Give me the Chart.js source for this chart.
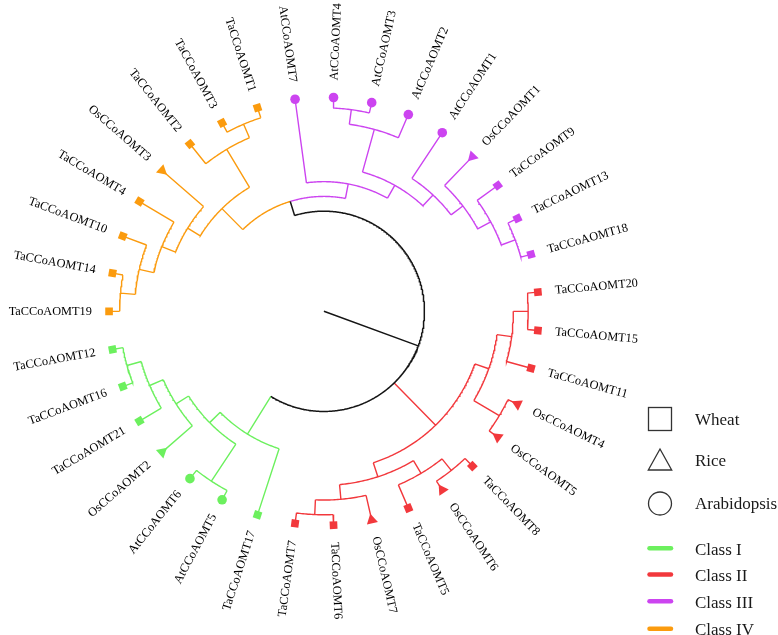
<!DOCTYPE html>
<html>
<head>
<meta charset="utf-8">
<script src="https://cdn.jsdelivr.net/npm/chart.js@4.4.0/dist/chart.umd.min.js"></script>
<style>
  html, body { margin: 0; padding: 0; background: #fff; }
  #wrap { width: 778px; height: 635px; }
</style>
</head>
<body>
<div id="wrap"><canvas id="tree" width="778" height="635"></canvas></div>
<script>
"use strict";

// leaves, clockwise starting at 9 o'clock
const leafNames = [
  'TaCCoAOMT19', 'TaCCoAOMT14', 'TaCCoAOMT10', 'TaCCoAOMT4', 'OsCCoAOMT3', 'TaCCoAOMT2', 'TaCCoAOMT3', 'TaCCoAOMT1',
  'AtCCoAOMT7', 'AtCCoAOMT4', 'AtCCoAOMT3', 'AtCCoAOMT2', 'AtCCoAOMT1', 'OsCCoAOMT1', 'TaCCoAOMT9', 'TaCCoAOMT13', 'TaCCoAOMT18',
  'TaCCoAOMT20', 'TaCCoAOMT15', 'TaCCoAOMT11', 'OsCCoAOMT4', 'OsCCoAOMT5', 'TaCCoAOMT8', 'OsCCoAOMT6', 'TaCCoAOMT5', 'OsCCoAOMT7', 'TaCCoAOMT6', 'TaCCoAOMT7',
  'TaCCoAOMT17', 'AtCCoAOMT5', 'AtCCoAOMT6', 'OsCCoAOMT2', 'TaCCoAOMT21', 'TaCCoAOMT16', 'TaCCoAOMT12'
];
const leafClass = [
  'IV', 'IV', 'IV', 'IV', 'IV', 'IV', 'IV', 'IV',
  'III', 'III', 'III', 'III', 'III', 'III', 'III', 'III', 'III',
  'II', 'II', 'II', 'II', 'II', 'II', 'II', 'II', 'II', 'II', 'II',
  'I', 'I', 'I', 'I', 'I', 'I', 'I'
];
const speciesByPrefix = { Ta: 'Wheat', Os: 'Rice', At: 'Arabidopsis' };
const classNames = ['I', 'II', 'III', 'IV'];
const speciesNames = ['Wheat', 'Rice', 'Arabidopsis'];

// topology (cladogram)
const treeNewick =
  '(((((((TaCCoAOMT19,TaCCoAOMT14),TaCCoAOMT10),TaCCoAOMT4),OsCCoAOMT3),(TaCCoAOMT2,(TaCCoAOMT3,TaCCoAOMT1))),' +
  '(AtCCoAOMT7,(((AtCCoAOMT4,AtCCoAOMT3),AtCCoAOMT2),(AtCCoAOMT1,(OsCCoAOMT1,(TaCCoAOMT9,(TaCCoAOMT13,TaCCoAOMT18))))))),' +
  '((((TaCCoAOMT20,TaCCoAOMT15),TaCCoAOMT11),(OsCCoAOMT4,OsCCoAOMT5)),(((TaCCoAOMT8,OsCCoAOMT6),TaCCoAOMT5),(OsCCoAOMT7,(TaCCoAOMT6,TaCCoAOMT7)))),' +
  '(TaCCoAOMT17,((AtCCoAOMT5,AtCCoAOMT6),(OsCCoAOMT2,(TaCCoAOMT21,(TaCCoAOMT16,TaCCoAOMT12))))));';

// styling / layout
const classColors = { I: '#6cf05e', II: '#f2383c', III: '#cc44f0', IV: '#fb9b0e', black: '#151515' };
const markerStyle = { Wheat: 'rect', Rice: 'triangle', Arabidopsis: 'circle' };
const markerSize = { Wheat: 5.4, Rice: 6.5, Arabidopsis: 4.8 };
const tipR = 218.5;
const nodeR0 = 222.8;
const levelStep = 15.07;
const labelR = 236;
const cx = 322.8, cy = 311.2;
const W = 778, H = 635;

function parseNewick(s) {
  let pos = 0;
  function node() {
    if (s[pos] === '(') {
      pos++;
      const kids = [node()];
      while (s[pos] === ',') { pos++; kids.push(node()); }
      pos++;
      return { children: kids };
    }
    let name = '';
    while (pos < s.length && !',();'.includes(s[pos])) name += s[pos++];
    return { name: name.trim() };
  }
  return node();
}

const leafAngle = i => 180 - i * 360 / leafNames.length;
const pt = (r, deg) => ({ x: r * Math.cos(deg * Math.PI / 180), y: r * Math.sin(deg * Math.PI / 180) });

function layout(n) {
  if (!n.children) {
    const i = leafNames.indexOf(n.name);
    n.angle = leafAngle(i);
    n.h = 0;
    n.r = tipR;
    n.cls = leafClass[i];
    return;
  }
  n.children.forEach(layout);
  n.h = 1 + Math.max(...n.children.map(c => c.h));
  n.r = nodeR0 - n.h * levelStep;
  n.angle = n.children.reduce((s, c) => s + c.angle, 0) / n.children.length;
  const cl = n.children.map(c => c.cls);
  n.cls = cl.every(c => c && c === cl[0]) ? cl[0] : null;
}

const root = parseNewick(treeNewick);
layout(root);

const segs = { black: [], I: [], II: [], III: [], IV: [] };

function addRadial(key, deg, r0, r1) {
  segs[key].push([pt(r0, deg), pt(r1, deg)]);
}
function addArc(key, r, a0, a1) {
  const n = Math.max(2, Math.ceil(Math.abs(a1 - a0) / 0.5));
  const line = [];
  for (let k = 0; k <= n; k++) line.push(pt(r, a0 + (a1 - a0) * k / n));
  segs[key].push(line);
}

function walk(n, parentR, isRoot) {
  addRadial(n.cls || 'black', n.angle, isRoot ? 0 : parentR, n.r);
  if (!n.children) return;
  n.children.forEach(c => {
    addArc(isRoot ? 'black' : (c.cls || 'black'), n.r, n.angle, c.angle);
    walk(c, n.r, false);
  });
}
walk(root, 0, true);

const branchSets = Object.keys(segs).map(key => {
  const data = [];
  segs[key].forEach(line => {
    line.forEach(p => data.push(p));
    data.push({ x: NaN, y: NaN });
  });
  return {
    label: key,
    data: data,
    showLine: true,
    spanGaps: false,
    borderColor: classColors[key],
    borderWidth: key === 'black' ? 1.5 : 1.4,
    pointRadius: 0,
    order: 1
  };
});

const leafSpecies = leafNames.map(n => speciesByPrefix[n.slice(0, 2)]);
const markerSet = {
  label: 'tips',
  data: leafNames.map((n, i) => pt(tipR, leafAngle(i))),
  pointStyle: leafSpecies.map(s => markerStyle[s]),
  pointRadius: leafSpecies.map(s => markerSize[s]),
  pointRotation: leafSpecies.map((s, i) => s === 'Rice' ? -90 - leafAngle(i) : -leafAngle(i)),
  pointBackgroundColor: leafClass.map(c => classColors[c]),
  pointBorderWidth: 0,
  pointBorderColor: 'rgba(0,0,0,0)',
  order: 0
};

const labelPlugin = {
  id: 'leafLabels',
  afterDatasetsDraw(chart) {
    const { ctx, scales: { x, y } } = chart;
    ctx.save();
    ctx.font = '12.3px "Liberation Serif", "Times New Roman", serif';
    ctx.fillStyle = '#000';
    ctx.textBaseline = 'middle';
    leafNames.forEach((name, i) => {
      const a = leafAngle(i);
      const p = pt(labelR, a);
      ctx.save();
      ctx.translate(x.getPixelForValue(p.x), y.getPixelForValue(p.y));
      let rot = -a * Math.PI / 180;
      if (Math.cos(a * Math.PI / 180) < 0) {
        rot += Math.PI;
        ctx.textAlign = 'right';
      } else {
        ctx.textAlign = 'left';
      }
      ctx.rotate(rot);
      ctx.fillText(name, 0, 0);
      ctx.restore();
    });

    // legend
    ctx.strokeStyle = '#333';
    ctx.lineWidth = 1.3;
    ctx.strokeRect(648.5, 407.5, 23, 23);
    ctx.beginPath();
    ctx.moveTo(660, 449);
    ctx.lineTo(671.7, 470);
    ctx.lineTo(648.3, 470);
    ctx.closePath();
    ctx.stroke();
    ctx.beginPath();
    ctx.arc(660, 503.5, 11.5, 0, Math.PI * 2);
    ctx.stroke();

    ctx.font = '17px "Liberation Serif", "Times New Roman", serif';
    ctx.fillStyle = '#1a1a1a';
    ctx.textAlign = 'left';
    ctx.textBaseline = 'alphabetic';
    const spY = [425, 465.5, 508.5];
    speciesNames.forEach((s, k) => ctx.fillText(s, 695, spY[k]));

    const clY = [548.3, 574.5, 601.3, 628.7];
    ctx.lineWidth = 4.5;
    ctx.lineCap = 'round';
    classNames.forEach((c, k) => {
      ctx.strokeStyle = classColors[c];
      ctx.beginPath();
      ctx.moveTo(649.5, clY[k]);
      ctx.lineTo(671, clY[k]);
      ctx.stroke();
      ctx.fillText('Class ' + c, 695, clY[k] + 6.3);
    });
    ctx.restore();
  }
};

new Chart(document.getElementById('tree'), {
  type: 'scatter',
  data: { datasets: [markerSet, ...branchSets] },
  options: {
    responsive: false,
    animation: false,
    events: [],
    layout: { padding: 0 },
    scales: {
      x: { type: 'linear', min: -cx, max: W - cx, display: false },
      y: { type: 'linear', min: cy - H, max: cy, display: false }
    },
    plugins: {
      legend: { display: false },
      tooltip: { enabled: false }
    }
  },
  plugins: [labelPlugin]
});
</script>
</body>
</html>
